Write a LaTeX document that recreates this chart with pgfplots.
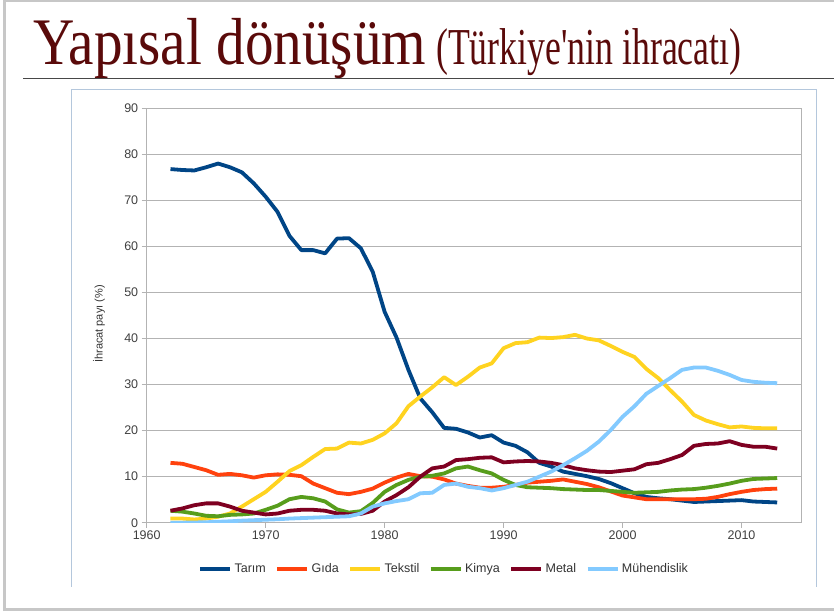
\documentclass[border=0pt]{standalone}
\usepackage{graphicx}
\usepackage{fontspec}
\setmainfont{Liberation Serif}
\newfontfamily\chartfont{Liberation Sans}
\usepackage{pgfplots}
\pgfplotsset{compat=1.18}
\usepackage{pgfplotstable}

\definecolor{tarim}{HTML}{004586}
\definecolor{gida}{HTML}{FF420E}
\definecolor{tekstil}{HTML}{FFD320}
\definecolor{kimya}{HTML}{579D1C}
\definecolor{metal}{HTML}{7E0021}
\definecolor{muh}{HTML}{83CAFF}
\definecolor{gridgray}{HTML}{B3B3B3}
\definecolor{ticktext}{HTML}{404040}
\definecolor{titlered}{HTML}{5A0A0A}
\definecolor{frameblue}{HTML}{B4C7DC}

% export shares (%), 1962-2013
\pgfplotstableread{
year tarim gida tekstil kimya metal muh
1962 76.8 13.0  0.9  2.6  2.6  0.0
1963 76.6 12.8  0.9  2.4  3.1  0.0
1964 76.5 12.1  0.7  2.0  3.8  0.05
1965 77.2 11.4  0.9  1.5  4.2  0.1
1966 78.0 10.4  1.3  1.4  4.2  0.2
1967 77.2 10.6  2.0  1.7  3.5  0.3
1968 76.1 10.3  3.5  1.8  2.6  0.45
1969 73.7  9.8  5.1  2.0  2.2  0.55
1970 70.8 10.3  6.7  2.8  1.8  0.65
1971 67.5 10.5  8.9  3.7  2.0  0.75
1972 62.3 10.4 11.2  5.1  2.6  0.9
1973 59.2 10.1 12.5  5.6  2.8  1.0
1974 59.2  8.5 14.3  5.3  2.8  1.1
1975 58.5  7.5 16.0  4.6  2.6  1.2
1976 61.7  6.5 16.1  2.9  2.0  1.3
1977 61.8  6.2 17.4  2.2  1.8  1.4
1978 59.6  6.7 17.2  2.5  1.9  2.0
1979 54.5  7.4 18.0  4.3  2.6  3.5
1980 45.8  8.7 19.4  6.7  4.6  4.2
1981 40.2  9.8 21.6  8.2  6.0  4.7
1982 33.2 10.6 25.3  9.3  7.7  5.1
1983 27.0 10.1 27.4 10.0 10.0  6.4
1984 24.0 10.0 29.4 10.2 11.8  6.5
1985 20.6  9.4 31.6 10.7 12.2  8.2
1986 20.4  8.5 29.9 11.8 13.6  8.5
1987 19.6  8.0 31.7 12.2 13.8  7.8
1988 18.5  7.6 33.7 11.4 14.1  7.5
1989 19.0  7.6 34.6 10.7 14.2  7.0
1990 17.4  7.8 37.9  9.3 13.1  7.5
1991 16.7  8.2 39.0  8.2 13.3  8.2
1992 15.3  8.7 39.2  7.7 13.4  8.9
1993 13.0  8.9 40.2  7.6 13.3 10.0
1994 12.2  9.1 40.1  7.5 13.0 11.1
1995 11.1  9.4 40.3  7.3 12.5 12.5
1996 10.6  8.9 40.8  7.2 11.8 14.0
1997 10.1  8.4 40.0  7.1 11.4 15.6
1998  9.5  7.7 39.6  7.1 11.1 17.6
1999  8.6  6.8 38.4  6.9 11.0 20.1
2000  7.5  5.9 37.1  6.7 11.3 23.0
2001  6.4  5.5 36.0  6.5 11.6 25.3
2002  5.6  5.1 33.4  6.6 12.7 28.0
2003  5.3  5.1 31.4  6.7 13.0 29.7
2004  5.1  5.1 28.8  7.0 13.8 31.4
2005  4.8  5.1 26.3  7.2 14.7 33.2
2006  4.5  5.1 23.4  7.3 16.7 33.7
2007  4.6  5.2 22.2  7.6 17.1 33.7
2008  4.7  5.6 21.4  8.0 17.2 33.0
2009  4.8  6.2 20.7  8.5 17.7 32.1
2010  4.9  6.7 20.9  9.1 16.9 31.0
2011  4.6  7.1 20.6  9.5 16.5 30.6
2012  4.5  7.3 20.5  9.6 16.5 30.4
2013  4.4  7.4 20.5  9.7 16.1 30.3
}\exports

\begin{document}
\begin{tikzpicture}
\path[use as bounding box] (0pt,0pt) rectangle (834pt,611pt);

% slide border
\draw[line width=2.5pt, color=black!22] (4.5pt,0pt) -- (4.5pt,610pt) -- (840pt,610pt);
\draw[line width=2.5pt, color=black!22] (4.5pt,1.5pt) -- (840pt,1.5pt);

% title
\node[anchor=base west, inner sep=0pt, text=titlered] at (33pt,546pt)
  {\fontsize{66.5}{70}\selectfont\scalebox{0.86}[1]{Yapısal dönüşüm}};
\node[anchor=base west, inner sep=0pt, text=titlered] at (436pt,546pt)
  {\fontsize{51.8}{55}\selectfont\scalebox{0.69}[1]{(Türkiye\textquotesingle nin ihracatı)}};
\draw[line width=1.3pt, color=black!72] (23pt,532.3pt) -- (834pt,532.3pt);

% chart frame
\draw[line width=1.2pt, color=frameblue] (71.3pt,24.3pt) -- (71.3pt,521.5pt) -- (816.7pt,521.5pt) -- (816.7pt,24.3pt);

\begin{axis}[
  at={(146.7pt,88.3pt)}, anchor=south west,
  scale only axis, width=654.3pt, height=414.4pt,
  xmin=1960, xmax=2015, ymin=0, ymax=90,
  xtick={1960,1970,...,2010}, ytick={0,10,...,90},
  xtick pos=bottom, ytick pos=left,
  ymajorgrids, grid style={color=gridgray, line width=0.9pt},
  axis line style={color=gridgray, line width=0.9pt},
  tick style={color=gridgray, line width=0.9pt},
  tick align=outside, major tick length=5pt,
  /pgf/number format/assume math mode=true,
  /pgf/number format/1000 sep={},
  tick label style={font=\chartfont\fontsize{12.5}{14}\selectfont, text=ticktext},
  ylabel={İhracat payı (\%)},
  ylabel style={at={(axis description cs:-0.073,0.4795)}, anchor=center,
    font=\chartfont\fontsize{11}{13}\selectfont, text=black!80},
  legend columns=6,
  legend style={at={(0.455,-0.1117)}, anchor=center, draw=none, fill=none,
    font=\chartfont\fontsize{12.5}{14}\selectfont, text=black!80,
    nodes={inner sep=2.5pt},
    /tikz/every even column/.append style={column sep=7pt}},
  legend image code/.code={\draw[#1] (0pt,0pt) -- (30pt,0pt);},
  every axis plot/.append style={line width=3.8pt, line join=round},
]
\addplot[color=tarim] table[x=year, y=tarim] {\exports};
\addplot[color=gida] table[x=year, y=gida] {\exports};
\addplot[color=tekstil] table[x=year, y=tekstil] {\exports};
\addplot[color=kimya] table[x=year, y=kimya] {\exports};
\addplot[color=metal] table[x=year, y=metal] {\exports};
\addplot[color=muh] table[x=year, y=muh] {\exports};
\legend{Tarım, Gıda, Tekstil, Kimya, Metal, Mühendislik}
\end{axis}
\end{tikzpicture}
\end{document}
